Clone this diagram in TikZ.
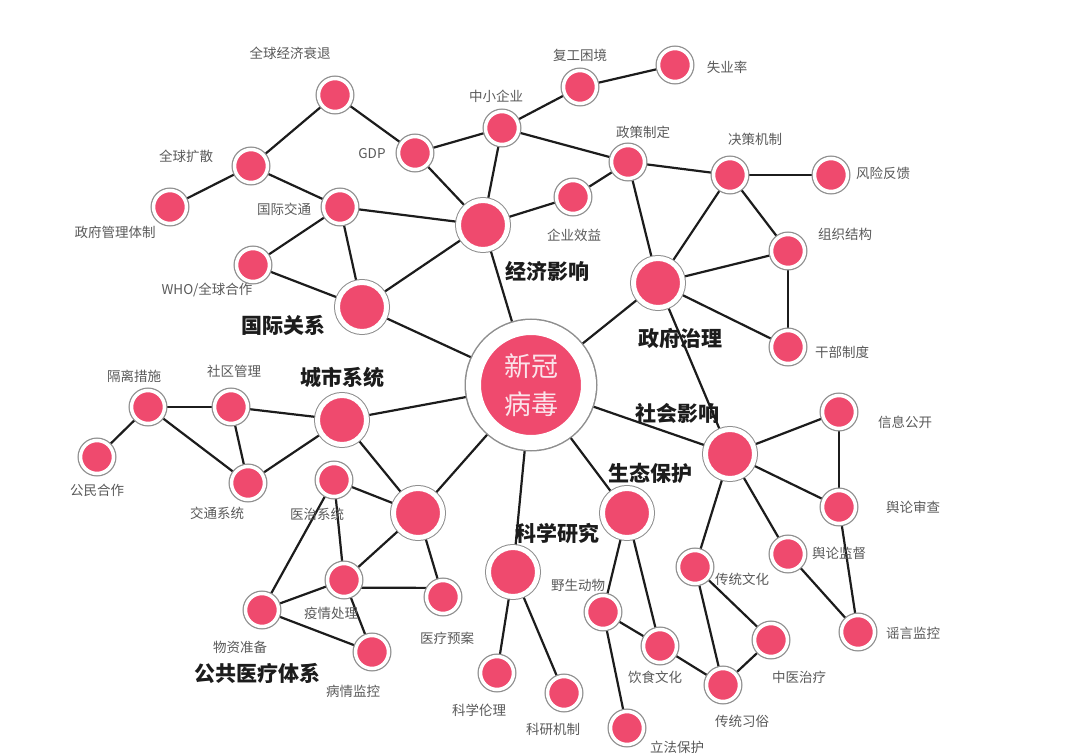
\documentclass[tikz,border=0pt]{standalone}
\usepackage{fontspec}
\setmainfont{Noto Sans CJK SC}
\usetikzlibrary{backgrounds}
\definecolor{pk}{HTML}{EF4A6E}
\definecolor{rim}{HTML}{8E8E8E}
\definecolor{lbl}{HTML}{5A5A5A}
\definecolor{ink}{HTML}{1C1C1C}
\definecolor{coretext}{HTML}{FBE3EA}
\begin{document}
\begin{tikzpicture}[x=1pt,y=-1pt,
 sn/.style={circle,inner sep=0pt,minimum size=33pt,fill=pk,draw=white,line width=3.5pt,preaction={draw=rim,line width=6pt}},
 hub/.style={circle,inner sep=0pt,minimum size=49pt,fill=pk,draw=white,line width=5pt,preaction={draw=rim,line width=7pt}},
 core/.style={circle,inner sep=0pt,minimum size=115pt,fill=pk,draw=white,line width=15pt,preaction={draw=rim,line width=18pt},text=coretext,align=center,font=\fontsize{27}{38}\selectfont},
 lb/.style={text=lbl,font=\fontsize{13.5}{15}\selectfont,inner sep=0pt},
 bl/.style={text=ink,font=\fontsize{21}{24}\selectfont\bfseries,inner sep=0pt},
 ed/.style={draw=ink,line width=2.2pt}]
\useasboundingbox (0,0) rectangle (1080,754);

% core and hubs
\node[core] (c) at (531,385) {新冠\\病毒};
\node[hub] (eco) at (483,225) {};
\node[hub] (intl) at (362,307) {};
\node[hub] (gov) at (658,283) {};
\node[hub] (city) at (342,420) {};
\node[hub] (med) at (418,513) {};
\node[hub] (soc) at (730,454) {};
\node[hub] (env) at (627,513) {};
\node[hub] (sci) at (513,572) {};

% small nodes
\node[sn] (gr) at (335,95) {};
\node[sn] (gdp) at (415,153) {};
\node[sn] (gs) at (251,166) {};
\node[sn] (zf) at (170,207) {};
\node[sn] (gj) at (340,207) {};
\node[sn] (who) at (253,265) {};
\node[sn] (zx) at (502,128) {};
\node[sn] (fg) at (580,87) {};
\node[sn] (sy) at (675,65) {};
\node[sn] (zc) at (628,162) {};
\node[sn] (qy) at (573,197) {};
\node[sn] (jc) at (730,175) {};
\node[sn] (fx) at (831,175) {};
\node[sn] (zz) at (788,251) {};
\node[sn] (gb) at (788,347) {};
\node[sn] (gl) at (148,407) {};
\node[sn] (sq) at (231,407) {};
\node[sn] (gm) at (97,457) {};
\node[sn] (jt) at (248,483) {};
\node[sn] (yz) at (334,480) {};
\node[sn] (yq) at (344,580) {};
\node[sn] (ya) at (443,597) {};
\node[sn] (wz) at (262,610) {};
\node[sn] (bq) at (372,652) {};
\node[sn] (xx) at (839,412) {};
\node[sn] (sc) at (839,507) {};
\node[sn] (jd) at (788,554) {};
\node[sn] (ct) at (695,567) {};
\node[sn] (zy) at (771,640) {};
\node[sn] (yy) at (858,632) {};
\node[sn] (xs) at (723,685) {};
\node[sn] (ys) at (603,612) {};
\node[sn] (yw) at (660,646) {};
\node[sn] (lf) at (627,728) {};
\node[sn] (ll) at (497,673) {};
\node[sn] (ky) at (564,693) {};

% edges
\begin{scope}[on background layer]
\fill[white] (0,0) rectangle (1080,754);
\foreach \a/\b in {c/eco,c/intl,c/gov,c/city,c/med,c/sci,c/env,c/soc,
  gov/soc,
  gr/gs,gr/gdp,gs/zf,gs/gj,gj/who,gj/intl,who/intl,gj/eco,intl/eco,gdp/eco,gdp/zx,
  zx/fg,fg/sy,zx/eco,zx/zc,eco/qy,qy/zc,
  zc/jc,zc/gov,jc/fx,jc/gov,jc/zz,zz/gov,zz/gb,gov/gb,
  gl/sq,gl/gm,gl/jt,sq/jt,sq/city,jt/city,city/med,
  yz/med,yz/yq,yz/wz,med/yq,med/ya,yq/wz,yq/bq,wz/bq,
  sci/ll,sci/ky,
  env/ys,env/yw,ys/yw,ys/lf,yw/xs,
  soc/xx,soc/sc,soc/ct,soc/jd,xx/sc,sc/yy,jd/yy,ct/xs,ct/zy,zy/xs}
  \draw[ed] (\a) -- (\b);
\draw[ed] (yq.-25) -- (ya.150);
\end{scope}

% small labels
\node[lb] (tgr) at (290,53) {全球经济衰退};
\node[lb] (tgdp) at (372,154) {GDP};
\node[lb] (tgs) at (186,156) {全球扩散};
\node[lb] (tzf) at (115,232) {政府管理体制};
\node[lb] (tgj) at (284,209) {国际交通};
\node[lb] (twho) at (207,290) {WHO/全球合作};
\node[lb] (tzx) at (496,96) {中小企业};
\node[lb] (tfg) at (580,55) {复工困境};
\node[lb] (tsy) at (727,67) {失业率};
\node[lb] (tzc) at (643,132) {政策制定};
\node[lb] (tqy) at (574,235) {企业效益};
\node[lb] (tjc) at (755,139) {决策机制};
\node[lb] (tfx) at (883,173) {风险反馈};
\node[lb] (tzz) at (845,234) {组织结构};
\node[lb] (tgb) at (842,352) {干部制度};
\node[lb] (tgl) at (134,376) {隔离措施};
\node[lb] (tsq) at (234,371) {社区管理};
\node[lb] (tgm) at (97,490) {公民合作};
\node[lb] (tjt) at (217,513) {交通系统};
\node[lb] (tyz) at (317,514) {医治系统};
\node[lb] (tyq) at (331,613) {疫情处理};
\node[lb] (tya) at (447,638) {医疗预案};
\node[lb] (twz) at (240,647) {物资准备};
\node[lb] (tbq) at (353,691) {病情监控};
\node[lb] (txx) at (905,422) {信息公开};
\node[lb] (tsc) at (913,507) {舆论审查};
\node[lb] (tjd) at (839,553) {舆论监督};
\node[lb] (tct) at (742,579) {传统文化};
\node[lb] (tzy) at (799,677) {中医治疗};
\node[lb] (tyy) at (913,633) {谣言监控};
\node[lb] (txs) at (742,721) {传统习俗};
\node[lb] (tys) at (578,585) {野生动物};
\node[lb] (tyw) at (655,677) {饮食文化};
\node[lb] (tlf) at (677,747) {立法保护};
\node[lb] (tll) at (479,710) {科学伦理};
\node[lb] (tky) at (553,729) {科研机制};

% hub labels
\node[bl] (tintl) at (283,325) {国际关系};
\node[bl] (teco) at (547,271) {经济影响};
\node[bl] (tgov) at (680,338) {政府治理};
\node[bl] (tcity) at (342,377) {城市系统};
\node[bl] (tmed) at (257,673) {公共医疗体系};
\node[bl] (tsoc) at (677,413) {社会影响};
\node[bl] (tenv) at (650,473) {生态保护};
\node[bl] (tsci) at (557,533) {科学研究};
\end{tikzpicture}
\end{document}
